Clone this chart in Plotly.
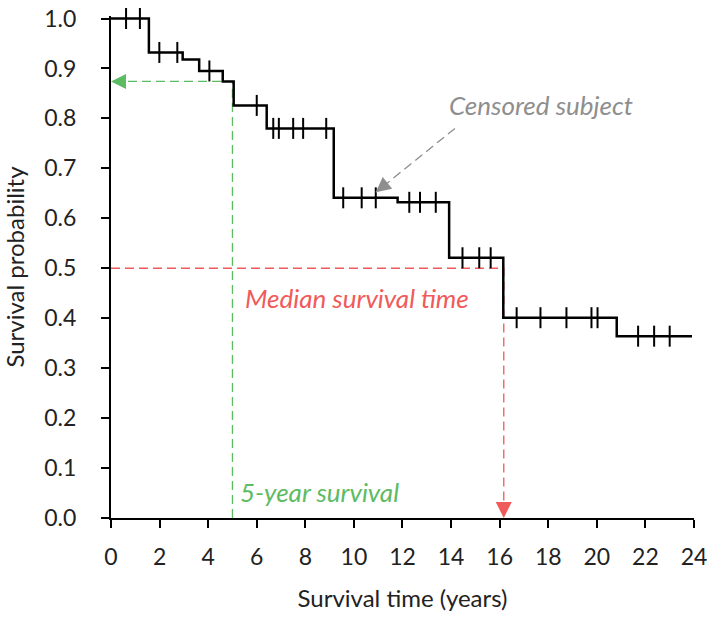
import plotly.graph_objects as go
import numpy as np

# Kaplan-Meier step curve: event times and survival level after each event
step_times = [0, 1.56, 2.95, 3.63, 4.6, 5.05, 6.41, 9.17, 11.8, 13.92, 16.15, 20.82]
step_surv = [1.0, 0.932, 0.918, 0.895, 0.874, 0.826, 0.780, 0.641, 0.632, 0.521, 0.401, 0.364]
follow_up_end = 23.92

# Censoring times (marked with vertical ticks on the curve)
censor_times = [0.62, 1.19, 1.99, 2.73, 4.05, 6.0, 6.68, 6.91, 7.5, 7.91, 8.86,
                9.56, 10.32, 10.9, 12.28, 12.72, 13.37, 14.47, 15.16, 15.63,
                16.7, 17.68, 18.75, 19.78, 20.03, 21.7, 22.36, 23.0]

five_year = 5.0
five_year_surv = 0.874
median_time = 16.17
median_surv = 0.5

x_ticks = list(range(0, 25, 2))
y_ticks = [round(v * 0.1, 1) for v in range(11)]

BLACK = "#000000"
GREEN = "#5dbb63"
RED = "#f05a5a"
GRAY = "#8e8e8e"
FONT = "Lato"


def surv_at(t):
    idx = np.searchsorted(step_times, t, side="right") - 1
    return step_surv[idx]


censor_surv = [surv_at(t) for t in censor_times]

fig = go.Figure()

# Reference lines: 5-year survival and median survival
fig.add_trace(go.Scatter(
    x=[five_year, five_year, 0], y=[0, five_year_surv, five_year_surv],
    mode="lines", line=dict(color=GREEN, width=1.3, dash="9px,5px"),
    hoverinfo="skip", showlegend=False))
fig.add_trace(go.Scatter(
    x=[0, median_time, median_time], y=[median_surv, median_surv, 0],
    mode="lines", line=dict(color=RED, width=1.3, dash="9px,5px"),
    hoverinfo="skip", showlegend=False))

# Survival curve
fig.add_trace(go.Scatter(
    x=step_times + [follow_up_end], y=step_surv + [step_surv[-1]],
    mode="lines", line=dict(color=BLACK, width=2.5, shape="hv"),
    showlegend=False))

# Censor marks
fig.add_trace(go.Scatter(
    x=censor_times, y=censor_surv, mode="markers",
    marker=dict(symbol="line-ns", size=15, line=dict(color=BLACK, width=2)),
    showlegend=False, cliponaxis=False))

# Pointer to a censored subject
pointer_start = (14.16, 0.78)
pointer_tip = (10.9, 0.652)
fig.add_trace(go.Scatter(
    x=[pointer_start[0], pointer_tip[0]], y=[pointer_start[1], pointer_tip[1]],
    mode="lines", line=dict(color=GRAY, width=1.3, dash="9px,5px"),
    hoverinfo="skip", showlegend=False))

annotations = [
    # arrowheads
    dict(x=0, y=five_year_surv, ax=16, ay=0, showarrow=True, text="",
         arrowhead=2, arrowsize=2, arrowwidth=1.5, arrowcolor=GREEN, standoff=0),
    dict(x=median_time, y=0, ax=0, ay=-16, showarrow=True, text="",
         arrowhead=2, arrowsize=2, arrowwidth=1.6, arrowcolor=RED, standoff=0),
    dict(x=pointer_tip[0], y=pointer_tip[1], ax=12, ay=-9.7, showarrow=True, text="",
         arrowhead=2, arrowsize=2, arrowwidth=1.5, arrowcolor=GRAY, standoff=0),
    # labels
    dict(x=17.7, y=0.826, text="<i>Censored subject</i>", showarrow=False,
         font=dict(family=FONT, size=26, color=GRAY)),
    dict(x=10.12, y=0.44, text="<i>Median survival time</i>", showarrow=False,
         font=dict(family=FONT, size=26, color=RED)),
    dict(x=8.6, y=0.052, text="<i>5-year survival</i>", showarrow=False,
         font=dict(family=FONT, size=26, color=GREEN)),
]

fig.update_layout(
    width=707, height=621,
    margin=dict(l=111, r=13, t=16, b=103),
    paper_bgcolor="white", plot_bgcolor="white",
    font=dict(family=FONT, size=23, color="#222222"),
    annotations=annotations,
    xaxis=dict(
        range=[0, 24.001], tickvals=x_ticks, ticktext=[str(v) for v in x_ticks],
        showgrid=False, zeroline=False, showline=True, linecolor=BLACK, linewidth=2,
        ticks="outside", ticklen=8, tickwidth=1.5, tickcolor=BLACK,
        tickfont=dict(size=23), ticklabelstandoff=9, ticklabeloverflow="allow",
        automargin=False,
        title=dict(text="Survival time (years)", font=dict(size=24), standoff=22),
    ),
    yaxis=dict(
        range=[0, 1.005], tickvals=y_ticks, ticktext=[f"{v:.1f}" for v in y_ticks],
        showgrid=False, zeroline=False, showline=True, linecolor=BLACK, linewidth=2,
        ticks="outside", ticklen=8, tickwidth=1.5, tickcolor=BLACK,
        tickfont=dict(size=23), ticklabelstandoff=20, ticklabeloverflow="allow",
        automargin=False,
        title=dict(text="Survival probability", font=dict(size=24), standoff=14),
    ),
)

fig.write_html("out.html")
